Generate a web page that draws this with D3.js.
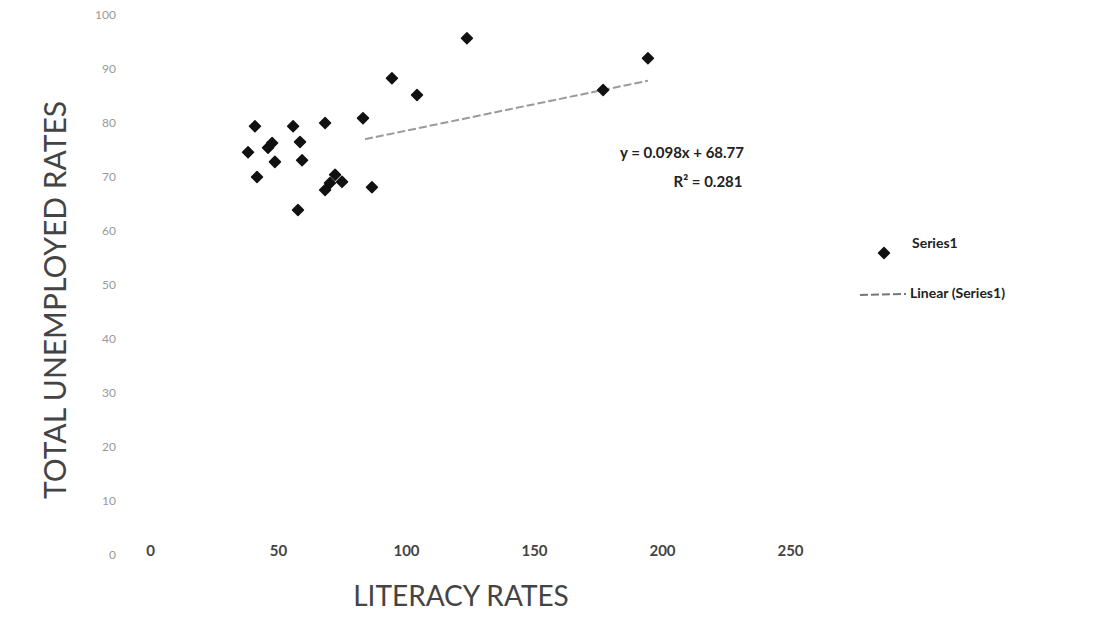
<!DOCTYPE html>
<html>
<head>
<meta charset="utf-8">
<script src="https://cdn.jsdelivr.net/npm/d3@7"></script>
<style>
  body { margin: 0; background: #fff; }
  svg { font-family: Lato, "Open Sans", sans-serif; }
</style>
</head>
<body>
<div id="wrapper"></div>
<script>
// literacy rate (x) vs total unemployed rate (y)
const literacy = [123.8, 94.5, 104.3, 83.2, 41.0, 55.9, 68.4, 47.7, 46.1, 38.3, 58.6,
                  48.8, 59.4, 41.8, 72.3, 70.3, 75.0, 68.4, 86.7, 57.8, 194.5, 177.0];
const unemployed = [95.7, 88.3, 85.2, 80.9, 79.4, 79.4, 80.0, 76.3, 75.4, 74.6, 76.5,
                    72.8, 73.1, 70.0, 70.4, 68.9, 69.1, 67.6, 68.1, 63.9, 92.0, 86.1];
const xTicks = [0, 50, 100, 150, 200, 250];
const yTicks = [0, 10, 20, 30, 40, 50, 60, 70, 80, 90, 100];
const trendSlope = 0.098, trendIntercept = 68.77, trendR2 = 0.281;
const trendFrom = 84; // visible part of the trend line starts here

var width = 1112, height = 625;
var plot = {left: 150, right: 790, top: 15, bottom: 555};

var svg = d3.select("#wrapper")
  .append("svg")
    .attr("width", width)
    .attr("height", height);

var x = d3.scaleLinear().domain([0, 250]).range([plot.left, plot.right]);
var y = d3.scaleLinear().domain([0, 100]).range([plot.bottom, plot.top]);

/* axes: no lines, just faint labels like the scan */
var xAxis = svg.append("g")
  .attr("transform", "translate(0," + (plot.bottom - 18) + ")")
  .call(d3.axisBottom(x).tickValues(xTicks).tickSize(0).tickPadding(8));
xAxis.select(".domain").remove();
xAxis.selectAll("text")
  .attr("font-size", 15)
  .attr("font-family", "Lato, sans-serif")
  .attr("font-weight", "bold")
  .attr("fill", "#444");

var yAxis = svg.append("g")
  .attr("transform", "translate(" + (plot.left - 28) + ",0)")
  .call(d3.axisLeft(y).tickValues(yTicks).tickSize(0).tickPadding(6));
yAxis.select(".domain").remove();
yAxis.selectAll("text")
  .attr("font-size", 12)
  .attr("font-family", "Lato, sans-serif")
  .attr("fill", "#999");

/* trend line */
var xmax = d3.max(literacy);
svg.append("line")
  .attr("x1", x(trendFrom))
  .attr("y1", y(trendSlope * trendFrom + trendIntercept))
  .attr("x2", x(xmax))
  .attr("y2", y(trendSlope * xmax + trendIntercept))
  .attr("stroke", "#9a9a9a")
  .attr("stroke-width", 2)
  .attr("stroke-dasharray", "8,3");

/* points: slightly rounded diamonds */
var marker = d3.symbol().type(d3.symbolSquare).size(60);
svg.selectAll("path.pt")
  .data(d3.range(literacy.length))
  .enter()
  .append("path")
    .attr("class", "pt")
    .attr("d", marker)
    .attr("transform", function(i) { return "translate(" + x(literacy[i]) + "," + y(unemployed[i]) + ") rotate(45)"; })
    .attr("fill", "#111")
    .attr("stroke", "#111")
    .attr("stroke-width", 1.5)
    .attr("stroke-linejoin", "round");

/* equation label */
svg.append("text")
  .attr("x", 682).attr("y", 158)
  .attr("text-anchor", "middle")
  .attr("font-size", 15)
  .attr("font-weight", "bold")
  .attr("fill", "#222")
  .text("y = " + trendSlope + "x + " + trendIntercept);
svg.append("text")
  .attr("x", 708).attr("y", 187)
  .attr("text-anchor", "middle")
  .attr("font-size", 15)
  .attr("font-weight", "bold")
  .attr("fill", "#222")
  .text("R² = " + trendR2);

/* axis titles */
svg.append("text")
  .attr("x", 461).attr("y", 606)
  .attr("text-anchor", "middle")
  .attr("font-size", 28)
  .attr("fill", "#444")
  .text("LITERACY RATES");
svg.append("text")
  .attr("transform", "translate(66,300) rotate(-90)")
  .attr("text-anchor", "middle")
  .attr("font-size", 30)
  .attr("fill", "#444")
  .text("TOTAL UNEMPLOYED RATES");

/* legend */
var legend = svg.append("g");
legend.append("path")
  .attr("d", marker)
  .attr("transform", "translate(884,253) rotate(45)")
  .attr("fill", "#111")
  .attr("stroke", "#111")
  .attr("stroke-width", 1.5)
  .attr("stroke-linejoin", "round");
legend.append("text")
  .attr("x", 912).attr("y", 248)
  .attr("font-size", 14)
  .attr("font-weight", "bold")
  .attr("fill", "#222")
  .text("Series1");
legend.append("line")
  .attr("x1", 860).attr("y1", 295)
  .attr("x2", 906).attr("y2", 294)
  .attr("stroke", "#777")
  .attr("stroke-width", 2)
  .attr("stroke-dasharray", "8,3");
legend.append("text")
  .attr("x", 910).attr("y", 298)
  .attr("font-size", 14)
  .attr("font-weight", "bold")
  .attr("fill", "#222")
  .text("Linear (Series1)");
</script>
</body>
</html>
